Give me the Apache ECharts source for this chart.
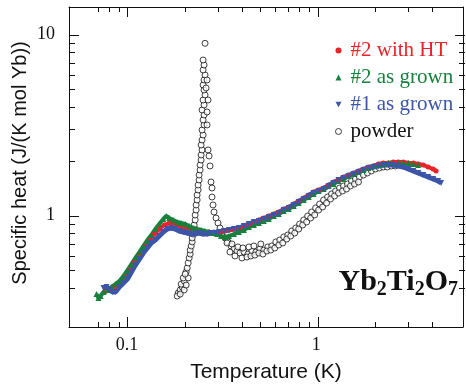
<!DOCTYPE html>
<html><head><meta charset="utf-8">
<script src="https://cdn.jsdelivr.net/npm/echarts@6/dist/echarts.min.js"></script>
<style>html,body{margin:0;padding:0;background:#fff}
#c,#t{width:466px;height:388px;position:absolute;left:0;top:0}
#t{pointer-events:none}</style>
</head><body><div id="c"></div><div id="t"></div>
<script>
// ---- axes / ticks ----
const xRange = [0.0493, 5.96];
const yRange = [0.2427, 14.22];
const xTickValues = [0.1, 1];
const xTickLabels = ['0.1', '1'];
const yTickValues = [1, 10];
const yTickLabels = ['1', '10'];
const xMinorTicks = [0.07, 0.08, 0.09, 0.2, 0.3, 0.4, 0.5, 0.6, 0.7, 0.8, 0.9, 2, 3, 4];
const yMinorTicks = [0.4, 0.5, 0.6, 0.7, 0.8, 0.9, 2, 3, 4, 5, 6, 7, 8, 9];
const seriesNames = ['#2 with HT', '#2 as grown', '#1 as grown', 'powder'];
const xTitle = 'Temperature (K)';
const yTitle = 'Specific heat (J/(K mol Yb))';

// ---- data: [T (K), C (J/(K mol Yb))] ----
const sample2HT = [[0.0760,0.379],[0.0807,0.389],[0.0858,0.404],[0.0911,0.425],[0.0968,0.458],[0.1028,0.501],[0.1093,0.555],[0.1161,0.614],[0.1233,0.680],[0.1310,0.734],[0.1392,0.792],[0.1479,0.844],[0.1572,0.888],[0.1670,0.911],[0.1753,0.911],[0.1840,0.888],[0.1931,0.866],[0.2027,0.855],[0.2128,0.844],[0.2261,0.834],[0.2402,0.823],[0.2551,0.813],[0.2711,0.813],[0.2880,0.813],[0.3060,0.813],[0.3251,0.823],[0.3454,0.834],[0.3671,0.844],[0.3900,0.855],[0.4145,0.877],[0.4403,0.900],[0.4677,0.923],[0.4970,0.947],[0.5280,0.971],[0.5610,0.996],[0.5960,1.022],[0.6332,1.048],[0.6728,1.089],[0.7149,1.117],[0.7595,1.160],[0.8069,1.206],[0.8574,1.252],[0.9110,1.301],[0.9678,1.352],[1.028,1.387],[1.093,1.422],[1.161,1.477],[1.233,1.535],[1.310,1.575],[1.392,1.636],[1.479,1.678],[1.572,1.721],[1.670,1.766],[1.774,1.811],[1.885,1.858],[2.003,1.882],[2.128,1.930],[2.261,1.955],[2.402,1.955],[2.552,1.980],[2.712,1.980],[2.881,1.980],[3.061,1.955],[3.252,1.955],[3.455,1.930],[3.670,1.906],[3.900,1.858],[4.143,1.811],[4.297,1.766]];
const sample2AsGrown = [[0.0689,0.369],[0.0706,0.351],[0.0724,0.360],[0.0750,0.379],[0.0787,0.389],[0.0827,0.404],[0.0868,0.419],[0.0911,0.436],[0.0956,0.464],[0.1004,0.501],[0.1054,0.541],[0.1106,0.584],[0.1161,0.630],[0.1218,0.680],[0.1279,0.734],[0.1342,0.782],[0.1409,0.844],[0.1479,0.900],[0.1553,0.959],[0.1610,0.996],[0.1670,0.971],[0.1753,0.947],[0.1840,0.923],[0.1931,0.911],[0.2027,0.900],[0.2128,0.877],[0.2234,0.855],[0.2344,0.844],[0.2461,0.834],[0.2582,0.823],[0.2711,0.813],[0.2845,0.802],[0.2987,0.792],[0.3135,0.772],[0.3291,0.763],[0.3454,0.772],[0.3671,0.792],[0.3900,0.813],[0.4145,0.834],[0.4403,0.866],[0.4677,0.888],[0.4970,0.911],[0.5280,0.935],[0.5610,0.959],[0.5960,0.996],[0.6332,1.022],[0.6728,1.062],[0.7149,1.089],[0.7595,1.131],[0.8069,1.175],[0.8574,1.221],[0.9110,1.268],[0.9678,1.318],[1.028,1.369],[1.093,1.404],[1.161,1.459],[1.233,1.497],[1.310,1.555],[1.392,1.595],[1.479,1.657],[1.572,1.699],[1.670,1.743],[1.774,1.789],[1.885,1.834],[2.003,1.882],[2.128,1.906],[2.261,1.930],[2.402,1.955],[2.552,1.955],[2.712,1.955],[2.881,1.955],[3.061,1.955],[3.252,1.930],[3.455,1.906]];
const sample1AsGrown = [[0.0750,0.399],[0.0778,0.404],[0.0807,0.389],[0.0837,0.379],[0.0868,0.379],[0.0911,0.404],[0.0956,0.425],[0.1004,0.447],[0.1054,0.489],[0.1106,0.534],[0.1161,0.576],[0.1218,0.622],[0.1279,0.663],[0.1342,0.707],[0.1409,0.734],[0.1479,0.772],[0.1553,0.813],[0.1630,0.844],[0.1711,0.855],[0.1796,0.844],[0.1885,0.823],[0.1979,0.813],[0.2077,0.802],[0.2181,0.792],[0.2289,0.792],[0.2402,0.802],[0.2521,0.792],[0.2646,0.792],[0.2777,0.802],[0.2915,0.802],[0.3060,0.813],[0.3251,0.823],[0.3454,0.834],[0.3671,0.844],[0.3900,0.855],[0.4145,0.877],[0.4403,0.900],[0.4677,0.923],[0.4970,0.935],[0.5280,0.959],[0.5610,0.984],[0.5960,1.009],[0.6332,1.035],[0.6728,1.075],[0.7149,1.103],[0.7595,1.146],[0.8069,1.190],[0.8574,1.237],[0.9110,1.285],[0.9678,1.335],[1.028,1.369],[1.093,1.404],[1.161,1.459],[1.233,1.516],[1.310,1.575],[1.392,1.615],[1.479,1.657],[1.572,1.699],[1.670,1.743],[1.774,1.789],[1.885,1.834],[2.003,1.858],[2.128,1.882],[2.261,1.906],[2.402,1.906],[2.552,1.906],[2.712,1.882],[2.881,1.858],[3.061,1.811],[3.252,1.766],[3.455,1.721],[3.670,1.678],[3.900,1.636],[4.143,1.595],[4.402,1.555],[4.565,1.516]];
const powderData = [
 [0.1862,0.374],[0.1908,0.389],[0.1955,0.404],[0.1931,0.419],[0.2003,0.436],[0.1979,0.453],[0.2052,0.489],[0.2077,0.514],[0.2102,0.548],[0.2128,0.584],[0.2154,0.614],[0.2154,0.646],[0.2181,0.680],[0.2207,0.716],[0.2207,0.753],[0.2234,0.792],[0.2261,0.844],[0.2261,0.888],[0.2289,0.947],[0.2289,1.009],[0.2316,1.075],[0.2316,1.146],[0.2344,1.221],[0.2344,1.301],[0.2373,1.387],[0.2373,1.477],[0.2402,1.575],[0.2402,1.678],[0.2431,1.789],[0.2431,1.906],[0.2461,2.031],[0.2461,2.165],[0.2490,2.307],[0.2461,2.458],[0.2490,2.620],[0.2521,2.792],[0.2490,2.975],[0.2551,3.171],[0.2521,3.379],[0.2551,3.601],[0.2490,3.837],[0.2551,4.089],[0.2521,4.357],[0.2582,4.644],[0.2551,4.949],[0.2521,5.274],[0.2551,5.620],[0.2582,5.989],[0.2521,6.383],[0.2551,6.801],[0.2521,7.247],[0.2582,8.96],
 [0.2614,5.077],[0.2646,3.741],[0.2646,3.171],[0.2678,4.357],[0.2646,5.620],
 [0.1840,0.360],[0.1908,0.369],[0.2003,0.389],[0.2052,0.414],[0.2102,0.453],[0.2027,0.476],
 [0.2678,2.307],[0.2711,2.137],[0.2744,1.882],[0.2777,1.535],[0.2811,1.422],[0.2811,1.268],[0.2845,1.146],[0.2880,1.048],[0.2951,0.971],[0.3023,0.911],[0.3098,0.855],[0.3173,0.802],[0.3291,0.753],[0.3413,0.716],[0.3539,0.680],[0.3671,0.655],[0.3807,0.638],[0.3948,0.622],[0.4145,0.630],[0.4350,0.614],[0.4566,0.638],[0.4792,0.630],[0.5030,0.655],[0.5280,0.646],[0.5543,0.672],[0.5817,0.680],[0.6107,0.716],[0.6409,0.734],[0.6728,0.763],[0.7064,0.782],[0.7413,0.823],[0.7782,0.855],[0.8167,0.900],[0.8574,0.947],[0.9000,0.996],[0.9447,1.048],[0.9915,1.103],[1.0409,1.160],[1.0926,1.221],[1.1468,1.268],[1.2037,1.318],[1.2636,1.369],[1.3263,1.422],[1.3920,1.459],[1.4613,1.497],[1.5339,1.555],[1.6101,1.595],[1.6899,1.636],[1.7739,1.678],[1.8621,1.721],[1.9547,1.766],[2.0516,1.811],[2.1538,1.834],[2.2605,1.858],[2.3726,1.858],[2.4905,1.882],[2.6145,1.882],
 [0.3496,0.630],[0.3715,0.599],[0.4045,0.584],[0.4297,0.591],[0.4511,0.599],[0.4734,0.606],[0.4970,0.622],[0.5218,0.614],[0.5476,0.638],[0.5747,0.646],[0.6032,0.663],[0.6332,0.689],[0.6646,0.707],[0.6976,0.743],[0.7322,0.772],[0.7687,0.802],[0.8069,0.844],[0.8470,0.888],[0.8892,0.923],[0.9333,0.971],[0.9797,1.009],[1.0283,1.075],[1.0794,1.117],[1.1329,1.175],[1.1893,1.237],[1.2484,1.285],[1.3103,1.335],[1.3755,1.369],[1.4439,1.404],[1.5153,1.459],[1.5907,1.497],[1.6696,1.535],
 [0.3372,0.707],[0.3582,0.698],[0.3853,0.672],[0.4094,0.663],[0.4403,0.672],[0.4677,0.680],[0.5090,0.698]
];

// ---- styling ----
const INK = '#111';
const RED = '#e8232a', GREEN = '#17803d', BLUE = '#3c55a8';
const DOWN_TRI = 'path://M0,0L10,0L5,9Z';
const MAJOR_LEN = 10, MINOR_X_LEN = 5, MINOR_Y_LEN = 6;
const GRID = { left: 69, right: 1, top: 7, bottom: 61 };

function labelFor(values, labels) {
  return function (v) {
    for (let i = 0; i < values.length; i++) if (Math.abs(v / values[i] - 1) < 1e-6) return labels[i];
    return '';
  };
}
function tickRender(isX, len) {
  return function (params, api) {
    const cs = params.coordSys;
    const p = api.coord([api.value(0), api.value(1)]);
    const st = { stroke: INK, lineWidth: 1 };
    if (isX) {
      const x = Math.round(p[0]) + 0.5;
      return { type: 'group', children: [
        { type: 'line', shape: { x1: x, y1: cs.y + cs.height, x2: x, y2: cs.y + cs.height - len }, style: st },
        { type: 'line', shape: { x1: x, y1: cs.y, x2: x, y2: cs.y + len }, style: st }
      ]};
    }
    const y = Math.round(p[1]) + 0.5;
    return { type: 'group', children: [
      { type: 'line', shape: { x1: cs.x, y1: y, x2: cs.x + len, y2: y }, style: st },
      { type: 'line', shape: { x1: cs.x + cs.width, y1: y, x2: cs.x + cs.width - len, y2: y }, style: st }
    ]};
  };
}
function axisBase(showLine) {
  return {
    type: 'log', logBase: 10,
    axisLine: { show: showLine, lineStyle: { color: INK, width: 1 } },
    axisTick: { show: false },
    splitLine: { show: false },
    minorTick: { show: false }
  };
}

// ---- main chart: frame, labels, legend, data ----
const chart = echarts.init(document.getElementById('c'));
chart.setOption({
  animation: false,
  grid: GRID,
  xAxis: [
    Object.assign(axisBase(true), {
      position: 'bottom', min: xRange[0], max: xRange[1],
      axisLabel: { margin: 9, fontFamily: 'Liberation Serif', fontSize: 18, color: INK,
        formatter: labelFor(xTickValues, xTickLabels) },
      name: xTitle, nameLocation: 'middle', nameGap: 35,
      nameTextStyle: { fontFamily: 'Liberation Sans', fontSize: 21, color: INK }
    }),
    Object.assign(axisBase(true), { position: 'top', min: xRange[0], max: xRange[1], axisLabel: { show: false } })
  ],
  yAxis: [
    Object.assign(axisBase(true), {
      position: 'left', min: yRange[0], max: yRange[1],
      axisLabel: { margin: 14, fontFamily: 'Liberation Serif', fontSize: 18, color: INK,
        formatter: labelFor(yTickValues, yTickLabels) }
    }),
    Object.assign(axisBase(true), { position: 'right', min: yRange[0], max: yRange[1], axisLabel: { show: false } })
  ],
  legend: {
    orient: 'vertical', left: 335, top: 40, padding: 0,
    itemWidth: 6, itemHeight: 6, itemGap: 6, selectedMode: false,
    textStyle: { fontFamily: 'Liberation Serif', fontSize: 21, lineHeight: 20, padding: [0, 0, 0, 4] },
    data: [
      { name: seriesNames[0], icon: 'circle', textStyle: { color: RED } },
      { name: seriesNames[1], icon: 'triangle', textStyle: { color: GREEN } },
      { name: seriesNames[2], icon: DOWN_TRI, textStyle: { color: BLUE } },
      { name: seriesNames[3], icon: 'circle', textStyle: { color: INK },
        itemStyle: { color: '#fff', borderColor: INK, borderWidth: 1 } }
    ]
  },
  graphic: [
    { type: 'text', x: 20, y: 163, rotation: Math.PI / 2, silent: true,
      style: { text: yTitle, fontFamily: 'Liberation Sans', fontSize: 20, fill: INK, align: 'center', verticalAlign: 'middle' } },
    { type: 'text', right: 8, top: 267, silent: true,
      style: {
        text: '{m|Yb}{s|2}{m|Ti}{s|2}{m|O}{s|7}',
        rich: {
          m: { fontFamily: 'Liberation Serif', fontWeight: 'bold', fontSize: 30, lineHeight: 36, verticalAlign: 'middle', fill: INK },
          s: { fontFamily: 'Liberation Serif', fontWeight: 'bold', fontSize: 20, lineHeight: 20, verticalAlign: 'bottom', fill: INK }
        }
      } }
  ],
  series: [
    { type: 'line', name: seriesNames[0], data: sample2HT, symbol: 'circle', symbolSize: 5,
      lineStyle: { color: RED, width: 4 }, itemStyle: { color: RED } },
    { type: 'line', name: seriesNames[1], data: sample2AsGrown, symbol: 'triangle', symbolSize: 6,
      lineStyle: { color: GREEN, width: 4 }, itemStyle: { color: GREEN } },
    { type: 'line', name: seriesNames[2], data: sample1AsGrown, symbol: 'triangle', symbolRotate: 180, symbolSize: 6,
      lineStyle: { color: BLUE, width: 5 }, itemStyle: { color: BLUE } },
    { type: 'scatter', name: seriesNames[3], data: powderData, symbol: 'circle', symbolSize: 6,
      itemStyle: { color: '#fff', borderColor: INK, borderWidth: 1 } }
  ]
});

// ---- overlay chart on the same grid and log scales: inward tick marks on all four sides ----
const ticks = echarts.init(document.getElementById('t'));
ticks.setOption({
  animation: false,
  grid: GRID,
  xAxis: [
    Object.assign(axisBase(false), { position: 'bottom', min: xRange[0], max: xRange[1], axisLabel: { show: false } }),
    Object.assign(axisBase(false), { position: 'top', min: xRange[0], max: xRange[1], axisLabel: { show: false } })
  ],
  yAxis: [
    Object.assign(axisBase(false), { position: 'left', min: yRange[0], max: yRange[1], axisLabel: { show: false } }),
    Object.assign(axisBase(false), { position: 'right', min: yRange[0], max: yRange[1], axisLabel: { show: false } })
  ],
  series: [
    { type: 'custom', silent: true, renderItem: tickRender(true, MAJOR_LEN), data: xTickValues.map(v => [v, 1]) },
    { type: 'custom', silent: true, renderItem: tickRender(true, MINOR_X_LEN), data: xMinorTicks.map(v => [v, 1]) },
    { type: 'custom', silent: true, renderItem: tickRender(false, MAJOR_LEN), data: yTickValues.map(v => [1, v]) },
    { type: 'custom', silent: true, renderItem: tickRender(false, MINOR_Y_LEN), data: yMinorTicks.map(v => [1, v]) }
  ]
});
</script>
</body></html>
